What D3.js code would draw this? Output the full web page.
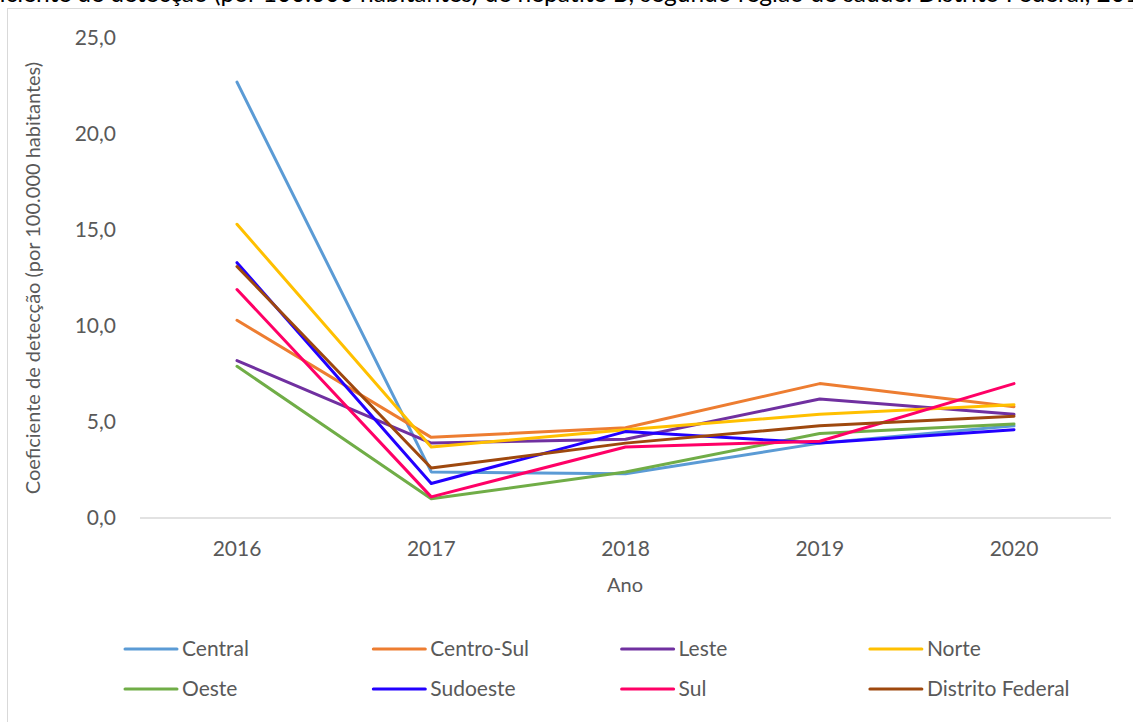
<!DOCTYPE html>
<meta charset="utf-8">
<style>
body { margin: 0; background: #fff; }
text { font-family: Lato, Calibri, sans-serif; fill: #595959; }
</style>
<body>
<script src="https://cdn.jsdelivr.net/npm/d3@7"></script>
<script>

var w = 1133,
    h = 722;

var years = ["2016", "2017", "2018", "2019", "2020"];
var regions = ["Central", "Centro-Sul", "Leste", "Norte", "Oeste", "Sudoeste", "Sul", "Distrito Federal"];
var colors = ["#5b9bd5", "#ed7d31", "#7030a0", "#ffc000", "#70ad47", "#2200ff", "#ff0066", "#9e480e"];

var central        = [22.7, 2.4, 2.3, 3.9, 4.8];
var centroSul      = [10.3, 4.2, 4.7, 7.0, 5.8];
var leste          = [8.2, 3.9, 4.1, 6.2, 5.4];
var norte          = [15.3, 3.7, 4.6, 5.4, 5.9];
var oeste          = [7.9, 1.0, 2.4, 4.4, 4.9];
var sudoeste       = [13.3, 1.8, 4.5, 3.9, 4.6];
var sul            = [11.9, 1.1, 3.7, 4.0, 7.0];
var distritoFederal = [13.1, 2.6, 3.9, 4.8, 5.3];

var yTicks = [0, 5, 10, 15, 20, 25];

var series = [central, centroSul, leste, norte, oeste, sudoeste, sul, distritoFederal];

var svg = d3.select("body").append("svg")
    .attr("width", w)
    .attr("height", h);

// chart frame
svg.append("rect")
    .attr("x", 7.5).attr("y", 8.5)
    .attr("width", 1300).attr("height", 900)
    .attr("fill", "none")
    .attr("stroke", "#d9d9d9");

// title, cut off by the top edge as in the source
var title = "Coeficiente de detecção (por 100.000 habitantes) de hepatite B, segundo região de saúde. Distrito Federal, 2016 a 2020";
var t = svg.append("text")
    .attr("y", 2)
    .style("font-size", "24.5px")
    .style("fill", "#000")
    .text(title);
var tmp = svg.append("text").style("font-size", "24.5px").text("Coef");
var off = tmp.node().getComputedTextLength();
tmp.remove();
t.attr("x", -off);

var x = d3.scalePoint()
    .domain(years)
    .range([237, 1014]);

var y = d3.scaleLinear()
    .domain([0, 25])
    .range([518, 38]);

// x baseline
svg.append("line")
    .attr("x1", 140).attr("x2", 1111)
    .attr("y1", y(0)).attr("y2", y(0))
    .attr("stroke", "#d9d9d9")
    .attr("stroke-width", 1.5);

svg.selectAll(".ytick")
    .data(yTicks)
  .enter().append("text")
    .attr("class", "ytick")
    .attr("x", 116)
    .attr("y", function(d) { return y(d); })
    .attr("dy", "0.35em")
    .attr("text-anchor", "end")
    .style("font-size", "21px")
    .text(function(d) { return d3.format(".1f")(d).replace(".", ","); });

svg.selectAll(".xtick")
    .data(years)
  .enter().append("text")
    .attr("class", "xtick")
    .attr("x", function(d) { return x(d); })
    .attr("y", 549)
    .attr("dy", "0.35em")
    .attr("text-anchor", "middle")
    .style("font-size", "21px")
    .text(function(d) { return d; });

svg.append("text")
    .attr("x", 625)
    .attr("y", 585)
    .attr("dy", "0.35em")
    .attr("text-anchor", "middle")
    .style("font-size", "20px")
    .text("Ano");

svg.append("text")
    .attr("transform", "translate(33,278) rotate(-90)")
    .attr("dy", "0.35em")
    .attr("text-anchor", "middle")
    .style("font-size", "20px")
    .text("Coeficiente de detecção (por 100.000 habitantes)");

var line = d3.line()
    .x(function(d, i) { return x(years[i]); })
    .y(function(d) { return y(d); });

svg.selectAll(".series")
    .data(series)
  .enter().append("path")
    .attr("class", "series")
    .attr("d", line)
    .attr("fill", "none")
    .attr("stroke", function(d, i) { return colors[i]; })
    .attr("stroke-width", 3)
    .attr("stroke-linejoin", "round")
    .attr("stroke-linecap", "round");

// legend
var leg = svg.selectAll(".legend")
    .data(regions)
  .enter().append("g")
    .attr("class", "legend")
    .attr("transform", function(d, i) {
      return "translate(" + (125 + (i % 4) * 248.3) + "," + (649 + Math.floor(i / 4) * 40) + ")";
    });

leg.append("line")
    .attr("x1", 0).attr("x2", 52)
    .attr("stroke", function(d, i) { return colors[i]; })
    .attr("stroke-width", 3)
    .attr("stroke-linecap", "round");

leg.append("text")
    .attr("x", 57)
    .attr("dy", "0.35em")
    .style("font-size", "21px")
    .text(function(d) { return d; });

</script>
